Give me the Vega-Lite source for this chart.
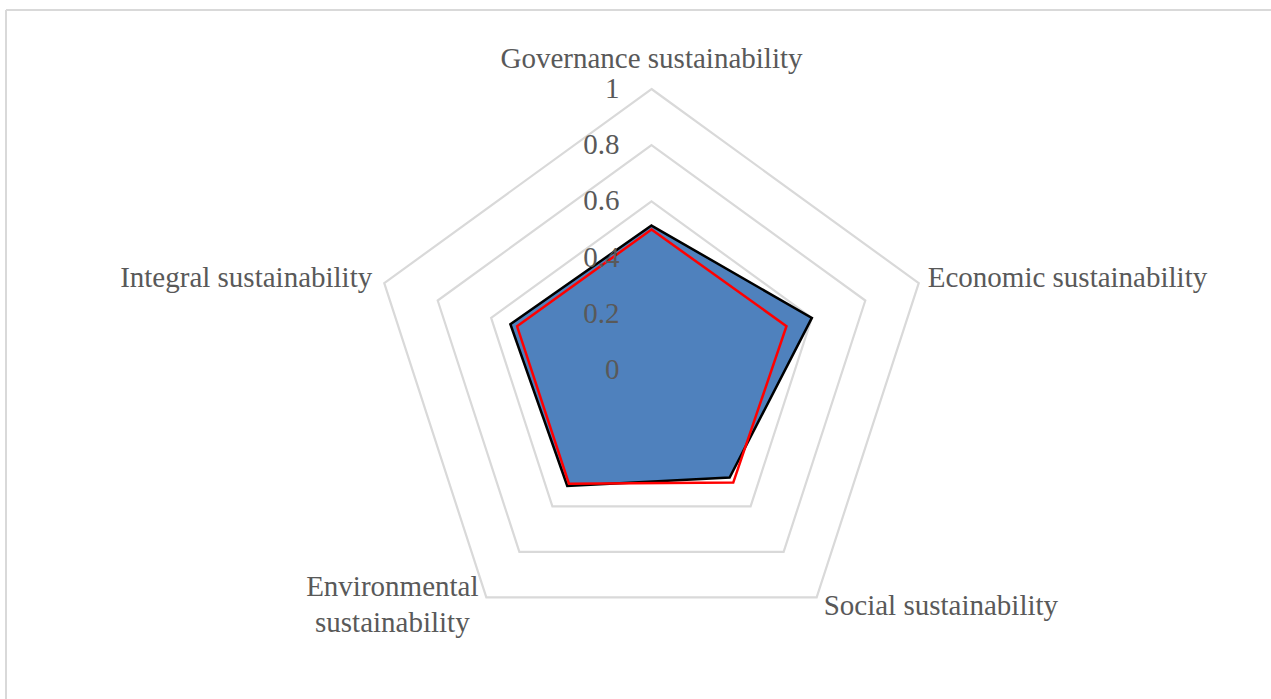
{
  "$schema": "https://vega.github.io/schema/vega-lite/v6.json",
  "width": 1265,
  "height": 689,
  "autosize": "none",
  "padding": {"left": 6, "top": 10, "right": 0, "bottom": 0},
  "background": "white",
  "config": {
    "view": {"stroke": null},
    "text": {"font": "Liberation Serif", "fontSize": 29, "color": "#595959"}
  },
  "datasets": {
    "grid": [
      {"level": 0.2, "order": 0}, {"level": 0.2, "order": 1}, {"level": 0.2, "order": 2}, {"level": 0.2, "order": 3}, {"level": 0.2, "order": 4},
      {"level": 0.4, "order": 0}, {"level": 0.4, "order": 1}, {"level": 0.4, "order": 2}, {"level": 0.4, "order": 3}, {"level": 0.4, "order": 4},
      {"level": 0.6, "order": 0}, {"level": 0.6, "order": 1}, {"level": 0.6, "order": 2}, {"level": 0.6, "order": 3}, {"level": 0.6, "order": 4},
      {"level": 0.8, "order": 0}, {"level": 0.8, "order": 1}, {"level": 0.8, "order": 2}, {"level": 0.8, "order": 3}, {"level": 0.8, "order": 4},
      {"level": 1.0, "order": 0}, {"level": 1.0, "order": 1}, {"level": 1.0, "order": 2}, {"level": 1.0, "order": 3}, {"level": 1.0, "order": 4}
    ],
    "series": [
      {"series": "A", "axis": "Governance sustainability", "order": 0, "value": 0.514},
      {"series": "A", "axis": "Economic sustainability", "order": 1, "value": 0.600},
      {"series": "A", "axis": "Social sustainability", "order": 2, "value": 0.473},
      {"series": "A", "axis": "Environmental sustainability", "order": 3, "value": 0.510},
      {"series": "A", "axis": "Integral sustainability", "order": 4, "value": 0.528},
      {"series": "B", "axis": "Governance sustainability", "order": 0, "value": 0.500},
      {"series": "B", "axis": "Economic sustainability", "order": 1, "value": 0.505},
      {"series": "B", "axis": "Social sustainability", "order": 2, "value": 0.495},
      {"series": "B", "axis": "Environmental sustainability", "order": 3, "value": 0.500},
      {"series": "B", "axis": "Integral sustainability", "order": 4, "value": 0.503}
    ],
    "labels": [
      {"name": "Governance sustainability", "order": 0},
      {"name": "Economic sustainability", "order": 1},
      {"name": "Social sustainability", "order": 2},
      {"name": "Environmental\nsustainability", "order": 3},
      {"name": "Integral sustainability", "order": 4}
    ],
    "ticks": [
      {"level": 0, "label": "0"},
      {"level": 0.2, "label": "0.2"},
      {"level": 0.4, "label": "0.4"},
      {"level": 0.6, "label": "0.6"},
      {"level": 0.8, "label": "0.8"},
      {"level": 1, "label": "1"}
    ]
  },
  "layer": [
    {
      "data": {"values": [{}]},
      "mark": {"type": "rule", "stroke": "#d9d9d9", "strokeWidth": 2},
      "encoding": {
        "y": {"datum": 1.28114, "type": "quantitative", "scale": {"domain": [-1.17082, 1.28114], "nice": false, "zero": false}, "axis": null}
      }
    },
    {
      "data": {"values": [{}]},
      "mark": {"type": "rule", "stroke": "#d9d9d9", "strokeWidth": 2},
      "encoding": {
        "x": {"datum": -2.29715, "type": "quantitative", "scale": {"domain": [-2.29715, 2.20463], "nice": false, "zero": false}, "axis": null}
      }
    },
    {
      "data": {"name": "grid"},
      "transform": [
        {"calculate": "PI/2 - datum.order*2*PI/5", "as": "ang"},
        {"calculate": "datum.level*cos(datum.ang)", "as": "px"},
        {"calculate": "datum.level*sin(datum.ang)", "as": "py"}
      ],
      "mark": {"type": "line", "interpolate": "linear-closed", "stroke": "#d9d9d9", "strokeWidth": 2.2},
      "encoding": {
        "x": {"field": "px", "type": "quantitative"},
        "y": {"field": "py", "type": "quantitative"},
        "detail": {"field": "level", "type": "nominal"},
        "order": {"field": "order", "type": "quantitative"}
      }
    },
    {
      "data": {"name": "series"},
      "transform": [
        {"filter": "datum.series === 'A'"},
        {"calculate": "PI/2 - datum.order*2*PI/5", "as": "ang"},
        {"calculate": "datum.value*cos(datum.ang)", "as": "px"},
        {"calculate": "datum.value*sin(datum.ang)", "as": "py"}
      ],
      "mark": {"type": "line", "interpolate": "linear-closed", "fill": "#4f81bd", "stroke": "#000000", "strokeWidth": 2.5, "strokeJoin": "miter"},
      "encoding": {
        "x": {"field": "px", "type": "quantitative"},
        "y": {"field": "py", "type": "quantitative"},
        "order": {"field": "order", "type": "quantitative"}
      }
    },
    {
      "data": {"name": "series"},
      "transform": [
        {"filter": "datum.series === 'B'"},
        {"calculate": "PI/2 - datum.order*2*PI/5", "as": "ang"},
        {"calculate": "datum.value*cos(datum.ang)", "as": "px"},
        {"calculate": "datum.value*sin(datum.ang)", "as": "py"}
      ],
      "mark": {"type": "line", "interpolate": "linear-closed", "stroke": "#ff0000", "strokeWidth": 2.5, "strokeJoin": "miter"},
      "encoding": {
        "x": {"field": "px", "type": "quantitative"},
        "y": {"field": "py", "type": "quantitative"},
        "order": {"field": "order", "type": "quantitative"}
      }
    },
    {
      "data": {"name": "ticks"},
      "transform": [
        {"calculate": "0", "as": "px"}
      ],
      "mark": {"type": "text", "align": "right", "baseline": "middle", "dx": -32},
      "encoding": {
        "x": {"field": "px", "type": "quantitative"},
        "y": {"field": "level", "type": "quantitative"},
        "text": {"field": "label", "type": "nominal"}
      }
    },
    {
      "data": {"name": "labels"},
      "transform": [
        {"filter": "datum.order === 0"},
        {"calculate": "PI/2 - datum.order*2*PI/5", "as": "ang"},
        {"calculate": "cos(datum.ang)", "as": "px"},
        {"calculate": "sin(datum.ang)", "as": "py"}
      ],
      "mark": {"type": "text", "align": "center", "baseline": "middle", "dy": -30},
      "encoding": {
        "x": {"field": "px", "type": "quantitative"},
        "y": {"field": "py", "type": "quantitative"},
        "text": {"field": "name", "type": "nominal"}
      }
    },
    {
      "data": {"name": "labels"},
      "transform": [
        {"filter": "datum.order === 1"},
        {"calculate": "PI/2 - datum.order*2*PI/5", "as": "ang"},
        {"calculate": "cos(datum.ang)", "as": "px"},
        {"calculate": "sin(datum.ang)", "as": "py"}
      ],
      "mark": {"type": "text", "align": "left", "baseline": "middle", "dx": 9, "dy": -5},
      "encoding": {
        "x": {"field": "px", "type": "quantitative"},
        "y": {"field": "py", "type": "quantitative"},
        "text": {"field": "name", "type": "nominal"}
      }
    },
    {
      "data": {"name": "labels"},
      "transform": [
        {"filter": "datum.order === 2"},
        {"calculate": "PI/2 - datum.order*2*PI/5", "as": "ang"},
        {"calculate": "cos(datum.ang)", "as": "px"},
        {"calculate": "sin(datum.ang)", "as": "py"}
      ],
      "mark": {"type": "text", "align": "left", "baseline": "middle", "dx": 7, "dy": 9},
      "encoding": {
        "x": {"field": "px", "type": "quantitative"},
        "y": {"field": "py", "type": "quantitative"},
        "text": {"field": "name", "type": "nominal"}
      }
    },
    {
      "data": {"name": "labels"},
      "transform": [
        {"filter": "datum.order === 3"},
        {"calculate": "PI/2 - datum.order*2*PI/5", "as": "ang"},
        {"calculate": "cos(datum.ang)", "as": "px"},
        {"calculate": "sin(datum.ang)", "as": "py"}
      ],
      "mark": {"type": "text", "align": "center", "baseline": "middle", "dx": -94, "dy": -10, "lineBreak": "\n", "lineHeight": 36},
      "encoding": {
        "x": {"field": "px", "type": "quantitative"},
        "y": {"field": "py", "type": "quantitative"},
        "text": {"field": "name", "type": "nominal"}
      }
    },
    {
      "data": {"name": "labels"},
      "transform": [
        {"filter": "datum.order === 4"},
        {"calculate": "PI/2 - datum.order*2*PI/5", "as": "ang"},
        {"calculate": "cos(datum.ang)", "as": "px"},
        {"calculate": "sin(datum.ang)", "as": "py"}
      ],
      "mark": {"type": "text", "align": "right", "baseline": "middle", "dx": -12, "dy": -5},
      "encoding": {
        "x": {"field": "px", "type": "quantitative"},
        "y": {"field": "py", "type": "quantitative"},
        "text": {"field": "name", "type": "nominal"}
      }
    }
  ]
}
